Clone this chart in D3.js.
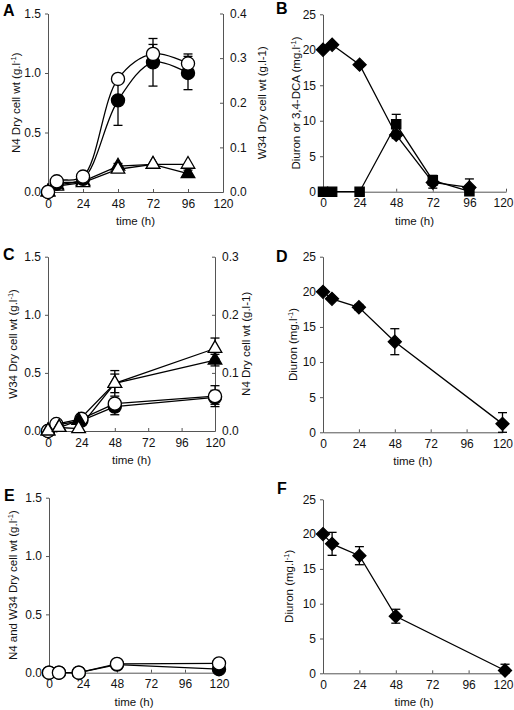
<!DOCTYPE html>
<html><head><meta charset="utf-8">
<script src="https://cdn.jsdelivr.net/npm/d3@7/dist/d3.min.js"></script>
<style>
body{margin:0;background:#fff}
svg{display:block}
text{font-family:"Liberation Sans",Arial,sans-serif}
</style>
</head><body>
<svg id="c" width="514" height="710"></svg>
<script>
// ---------- data ----------
const timeTicks = [0, 24, 48, 72, 96, 120];
const dryTicksLeft = [0, 0.5, 1.0, 1.5];
const diuronTicks = [0, 5, 10, 15, 20, 25];
const rightTicksA = [0, 0.1, 0.2, 0.3, 0.4];
const rightTicksC = [0, 0.1, 0.2, 0.3];

// Panel A
const timeA = [0, 6, 24, 48, 72, 96];
const aN4Open = [0.0, 0.09, 0.13, 0.95, 1.16, 1.08];
const aN4OpenErr = [0, 0, 0, 0, 0.08, 0.08];
const aN4Filled = [0.0, 0.07, 0.11, 0.77, 1.09, 1.00];
const aN4FilledErr = [0, 0, 0, 0.21, 0.20, 0.14];
const aW34Open = [0.0, 0.013, 0.021, 0.051, 0.062, 0.062];
const aW34OpenErr = [0, 0, 0, 0, 0, 0];
const aW34Filled = [0.0, 0.016, 0.024, 0.058, 0.062, 0.041];
const aW34FilledErr = [0, 0, 0, 0.006, 0, 0.008];

// Panel B
const timeB = [0, 6, 24, 48, 72, 96];
const bDiuron = [20.0, 20.7, 17.9, 8.0, 1.3, 0.6];
const bDiuronErr = [0, 0, 0, 0.5, 0.8, 1.2];
const bDCA = [0, 0, 0, 9.5, 1.6, 0.05];
const bDCAErr = [0, 0, 0, 1.4, 0.7, 0];

// Panel C
const timeCTri = [0, 8, 22, 48, 120];
const timeCCirc = [0, 6, 24, 48, 120];
const cW34Open = [0.0, 0.03, 0.02, 0.41, 0.71];
const cW34OpenErr = [0, 0, 0, 0.11, 0.09];
const cW34Filled = [0.0, 0.03, 0.09, 0.41, 0.61];
const cW34FilledErr = [0, 0, 0, 0.08, 0.05];
const cN4Open = [0.0, 0.012, 0.021, 0.047, 0.060];
const cN4OpenErr = [0, 0, 0, 0, 0.018];
const cN4Filled = [0.0, 0.010, 0.018, 0.042, 0.058];
const cN4FilledErr = [0, 0, 0, 0.014, 0.012];

// Panel D
const timeD = [0, 6, 24, 48, 120];
const dDiuron = [20.0, 19.0, 17.8, 12.9, 1.2];
const dDiuronErr = [0, 0, 0.4, 1.85, 1.6];

// Panel E
const timeE = [0, 7, 21, 48, 120];
const eFilled = [0, 0, 0, 0.07, 0.03];
const eOpen = [0, 0, 0, 0.075, 0.08];

// Panel F
const timeF = [0, 6, 24, 48, 120];
const fDiuron = [20.0, 18.6, 16.9, 8.2, 0.4];
const fDiuronErr = [0, 1.65, 1.3, 1.0, 0.9];

// ---------- drawing ----------
const svg = d3.select('#c');
const AXIS = '#555';

function titleText(sel, main, sup, tail) {
  sel.append('tspan').text(main);
  if (sup) {
    sel.append('tspan').attr('dy', -4).attr('font-size', 7.5).text(sup);
    sel.append('tspan').attr('dy', 4).text(tail);
  }
}

function panel(cfg) {
  const x = d3.scaleLinear().domain([0, 120]).range([cfg.x0, cfg.x1]);
  const yL = d3.scaleLinear().domain([0, cfg.yMax]).range([cfg.y0, cfg.y1]);
  const yR = cfg.rMax ? d3.scaleLinear().domain([0, cfg.rMax]).range([cfg.y0, cfg.y1]) : null;
  const g = svg.append('g');

  const gx = g.append('g').attr('transform', `translate(0,${cfg.y0})`)
    .call(d3.axisBottom(x).tickValues(timeTicks).tickSize(-3).tickSizeOuter(0).tickPadding(7));
  if (cfg.edge) {
    gx.selectAll('.tick').filter(d => d === 120).select('text')
      .attr('text-anchor', 'end').attr('dx', 513 - cfg.x1);
  }
  const gy = g.append('g').attr('transform', `translate(${cfg.x0},0)`)
    .call(d3.axisLeft(yL).tickValues(cfg.yTicks).tickFormat(cfg.yFmt).tickSize(3).tickSizeOuter(0).tickPadding(4));
  const axes = [gx, gy];
  if (yR) {
    const gr = g.append('g').attr('transform', `translate(${cfg.x1},0)`)
      .call(d3.axisRight(yR).tickValues(cfg.rTicks).tickFormat(d3.format('.1f')).tickSize(-3).tickSizeOuter(0).tickPadding(7));
    axes.push(gr);
  }
  axes.forEach(a => {
    a.select('.domain').attr('stroke', AXIS).attr('stroke-width', 1);
    a.selectAll('.tick line').attr('stroke', AXIS);
    a.selectAll('.tick text').attr('font-size', 12).attr('fill', '#111')
      .attr('font-family', '"Liberation Sans",Arial,sans-serif');
  });

  // axis titles
  g.append('text').attr('x', (cfg.x0 + cfg.x1) / 2).attr('y', cfg.y0 + 33)
    .attr('text-anchor', 'middle').attr('font-size', 11.5).attr('fill', '#111').text('time (h)');
  const lt = g.append('text')
    .attr('transform', `translate(${cfg.ltx},${(cfg.y0 + cfg.y1) / 2}) rotate(-90)`)
    .attr('text-anchor', 'middle').attr('font-size', 11.5).attr('fill', '#111');
  titleText(lt, cfg.lTitle[0], cfg.lTitle[1], cfg.lTitle[2]);
  if (cfg.rTitle) {
    g.append('text')
      .attr('transform', `translate(${cfg.rtx},${(cfg.y0 + cfg.y1) / 2}) rotate(-90)`)
      .attr('text-anchor', 'middle').attr('font-size', 11.5).attr('fill', '#111').text(cfg.rTitle);
  }
  g.append('text').attr('x', cfg.lx).attr('y', cfg.ly).attr('font-size', 16)
    .attr('font-weight', 'bold').attr('fill', '#000').text(cfg.letter);

  const series = cfg.series.map(s => ({
    ...s, y: s.axis === 'R' ? yR : yL,
    pts: s.t.map((t, i) => ({ t, v: s.v[i], e: s.e ? s.e[i] : 0 }))
  }));

  // lines
  series.forEach(s => {
    const line = d3.line().x(d => x(d.t)).y(d => s.y(d.v))
      .curve(s.smooth ? d3.curveCatmullRom.alpha(0.5) : d3.curveLinear);
    g.append('path').attr('d', line(s.pts)).attr('fill', 'none')
      .attr('stroke', '#000').attr('stroke-width', 1.3);
  });
  // error bars
  series.forEach(s => {
    s.pts.filter(d => d.e > 0).forEach(d => {
      const cx = x(d.t), top = s.y(d.v + d.e), bot = s.y(Math.max(0, d.v - d.e));
      g.append('line').attr('x1', cx).attr('x2', cx).attr('y1', top).attr('y2', bot)
        .attr('stroke', '#000').attr('stroke-width', 1.3);
      [top, bot].forEach(yy => g.append('line').attr('x1', cx - 4.5).attr('x2', cx + 4.5)
        .attr('y1', yy).attr('y2', yy).attr('stroke', '#000').attr('stroke-width', 1.3));
    });
  });
  // markers
  const symTypes = {
    circle: [d3.symbolCircle, 135, 0],
    triangle: [d3.symbolTriangle, 80, 0],
    diamond: [d3.symbolSquare, 85, 45],
    square: [d3.symbolSquare, 85, 0]
  };
  series.forEach(s => {
    const [type, size, rot] = symTypes[s.sym];
    const sym = d3.symbol().type(type).size(size);
    g.selectAll(null).data(s.pts).enter().append('path')
      .attr('d', sym)
      .attr('transform', d => `translate(${x(d.t)},${s.y(d.v)}) rotate(${rot})`)
      .attr('fill', s.fill).attr('stroke', '#000').attr('stroke-width', 1.3);
  });
}

const f1 = d3.format('.1f'), f0 = d3.format('d');

panel({
  letter: 'A', lx: 3, ly: 16,
  x0: 48, x1: 223, y0: 192, y1: 13.5, yMax: 1.5, yTicks: dryTicksLeft, yFmt: f1,
  rMax: 0.4, rTicks: rightTicksA,
  ltx: 20, lTitle: ['N4 Dry cell wt (g.l', '-1', ')'],
  rtx: 266, rTitle: 'W34 Dry cell wt (g.l-1)',
  series: [
    { t: timeA, v: aW34Filled, e: aW34FilledErr, axis: 'R', sym: 'triangle', fill: '#000' },
    { t: timeA, v: aW34Open, e: aW34OpenErr, axis: 'R', sym: 'triangle', fill: '#fff' },
    { t: timeA, v: aN4Filled, e: aN4FilledErr, axis: 'L', sym: 'circle', fill: '#000', smooth: true },
    { t: timeA, v: aN4Open, e: aN4OpenErr, axis: 'L', sym: 'circle', fill: '#fff', smooth: true }
  ]
});

panel({
  letter: 'B', lx: 276, ly: 14, edge: true,
  x0: 323, x1: 506, y0: 191.7, y1: 14.3, yMax: 25, yTicks: diuronTicks, yFmt: f0,
  ltx: 300, lTitle: ['Diuron or 3,4-DCA (mg.l', '-1', ')'],
  series: [
    { t: timeB, v: bDiuron, e: bDiuronErr, axis: 'L', sym: 'diamond', fill: '#000' },
    { t: timeB, v: bDCA, e: bDCAErr, axis: 'L', sym: 'square', fill: '#000' }
  ]
});

panel({
  letter: 'C', lx: 3, ly: 260,
  x0: 48, x1: 215, y0: 431, y1: 256.7, yMax: 1.5, yTicks: dryTicksLeft, yFmt: f1,
  rMax: 0.3, rTicks: rightTicksC,
  ltx: 17, lTitle: ['W34 Dry cell wt (g.l', '-1', ')'],
  rtx: 250, rTitle: 'N4 Dry cell wt (g.l-1)',
  series: [
    { t: timeCCirc, v: cN4Filled, e: cN4FilledErr, axis: 'R', sym: 'circle', fill: '#000' },
    { t: timeCCirc, v: cN4Open, e: cN4OpenErr, axis: 'R', sym: 'circle', fill: '#fff' },
    { t: timeCTri, v: cW34Filled, e: cW34FilledErr, axis: 'L', sym: 'triangle', fill: '#000' },
    { t: timeCTri, v: cW34Open, e: cW34OpenErr, axis: 'L', sym: 'triangle', fill: '#fff' }
  ]
});

panel({
  letter: 'D', lx: 276, ly: 262,
  x0: 323, x1: 502.5, y0: 432.3, y1: 256.7, yMax: 25, yTicks: diuronTicks, yFmt: f0,
  ltx: 297, lTitle: ['Diuron (mg.l', '-1', ')'],
  series: [
    { t: timeD, v: dDiuron, e: dDiuronErr, axis: 'L', sym: 'diamond', fill: '#000' }
  ]
});

panel({
  letter: 'E', lx: 4, ly: 501,
  x0: 49, x1: 219, y0: 672.7, y1: 497.7, yMax: 1.5, yTicks: dryTicksLeft, yFmt: f1,
  ltx: 17, lTitle: ['N4 and W34 Dry cell wt (g.l', '-1', ')'],
  series: [
    { t: timeE, v: eFilled, axis: 'L', sym: 'circle', fill: '#000' },
    { t: timeE, v: eOpen, axis: 'L', sym: 'circle', fill: '#fff' }
  ]
});

panel({
  letter: 'F', lx: 277, ly: 494, edge: true,
  x0: 323, x1: 505, y0: 673.3, y1: 499.3, yMax: 25, yTicks: diuronTicks, yFmt: f0,
  ltx: 293, lTitle: ['Diuron (mg.l', '-1', ')'],
  series: [
    { t: timeF, v: fDiuron, e: fDiuronErr, axis: 'L', sym: 'diamond', fill: '#000' }
  ]
});
</script>
</body></html>
